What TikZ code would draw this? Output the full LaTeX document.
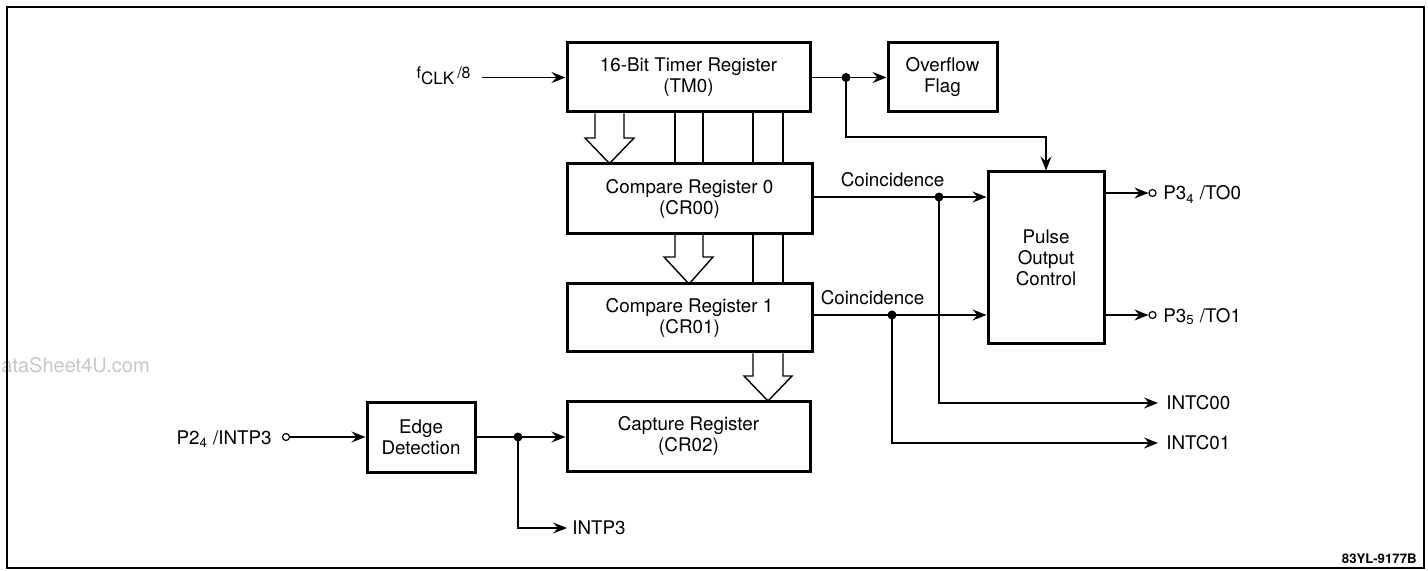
\documentclass[tikz,border=0pt]{standalone}
\usepackage{fontspec}
\setmainfont{TeX Gyre Heros}
\usetikzlibrary{arrows.meta}
\begin{document}
\begin{tikzpicture}[x=0.5pt,y=-0.5pt,
  box/.style={draw,line width=1.5pt,fill=white,align=center,inner sep=0pt,font=\fontsize{9.4}{10.5}\selectfont},
  conn/.style={line width=0.7pt},
  arr/.style={conn,-{Stealth[length=7pt,width=5.5pt,inset=2.5pt]}},
  lbl/.style={inner sep=0pt,font=\fontsize{9.4}{11}\selectfont},
  dot/.style={circle,fill,inner sep=0pt,minimum size=4.5pt},
  term/.style={circle,draw,line width=0.6pt,inner sep=0pt,minimum size=3.5pt,fill=white},
  wide/.style={line width=0.7pt,line join=miter}]
\useasboundingbox (0,0) rectangle (1428,571);

% watermark (as visible in the reference)
\node[anchor=west,text=black!22,font=\fontsize{10}{12}\selectfont,inner sep=0pt] (wm) at (1,365) {ataSheet4U.com};

% frame
\draw[line width=1pt] (7,7) rectangle (1424,568);

% boxes
\node[box,minimum width=121.5pt,minimum height=34.5pt] (tm0) at (688.5,77.5) {16-Bit Timer Register\\(TM0)};
\node[box,minimum width=54.5pt,minimum height=34.5pt] (ovf) at (942.5,77.5) {Overflow\\Flag};
\node[box,minimum width=122.5pt,minimum height=35pt] (cr00) at (689.5,198.5) {Compare Register 0\\(CR00)};
\node[box,minimum width=122.5pt,minimum height=34pt] (cr01) at (689.5,318) {Compare Register 1\\(CR01)};
\node[box,minimum width=121.5pt,minimum height=35pt] (cap) at (688.5,436) {Capture Register\\(CR02)};
\node[box,minimum width=54pt,minimum height=35pt] (edge) at (421,437) {Edge\\Detection};
\node[box,minimum width=58pt,minimum height=86pt] (poc) at (1046,258) {Pulse\\Output\\Control};

% wide (bus) arrows
\draw[wide] (tm0.south -| 595,0) -- (595,138) -- (585,138) -- (609.5,163.5) -- (634,138) -- (624,138) -- (tm0.south -| 624,0);
\draw[wide] (cr00.south -| 675,0) -- (675,257) -- (664,257) -- (689,284) -- (713,257) -- (703,257) -- (cr00.south -| 703,0);
\draw[wide] (cr01.south -| 753,0) -- (753,376) -- (744,376) -- (768,401) -- (792,376) -- (783,376) -- (cr01.south -| 783,0);
\foreach \xx in {675,703} {
  \draw[conn] (tm0.south -| \xx,0) -- (cr00.north -| \xx,0);
}
\foreach \xx in {753,783} {
  \draw[conn] (tm0.south -| \xx,0) -- (cr00.north -| \xx,0);
  \draw[conn] (cr00.south -| \xx,0) -- (cr01.north -| \xx,0);
}

% clock input
\node[lbl,anchor=east] (fclk) at (471,76) {{\fontsize{8}{9}\selectfont f}\raisebox{-3pt}{\fontsize{8.5}{9}\selectfont CLK}\,{\fontsize{8}{9}\selectfont /8}};
\coordinate (fin) at (482,77.5);
\draw[arr] (fin) -- (tm0.west);

% overflow branch
\coordinate (d0) at (846,77.5);
\draw[conn] (tm0.east) -- (d0);
\draw[arr] (d0) -- (ovf.west);
\draw[arr] (d0) -- ++(0,59.5) -| (poc.north);
\node[dot] (d0dot) at (d0) {};

% coincidence lines
\coordinate (c0) at (939,197);
\coordinate (c1) at (892,315);
\draw[arr] (cr00.east |- c0) -- (c0 -| poc.west);
\draw[arr] (cr01.east |- c1) -- (c1 -| poc.west);
\node[lbl] (coin0) at (892.5,180) {Coincidence};
\node[lbl] (coin1) at (872.5,298) {Coincidence};

\node[lbl,anchor=west] (intc00) at (1166,403) {INTC00};
\node[lbl,anchor=west] (intc01) at (1166,443) {INTC01};
\draw[arr] (c0) |- ([xshift=-4pt]intc00.west);
\draw[arr] (c1) |- ([xshift=-4pt]intc01.west);
\node[dot] (c0dot) at (c0) {};
\node[dot] (c1dot) at (c1) {};

% outputs
\node[term] (t0) at (1152.5,193) {};
\node[term] (t1) at (1152.5,315) {};
\draw[arr] (poc.east |- t0) -- (t0.west);
\draw[arr] (poc.east |- t1) -- (t1.west);
\node[lbl,anchor=base west] (to0) at (1163,200) {P3\textsubscript{4} /TO0};
\node[lbl,anchor=base west] (to1) at (1163,322) {P3\textsubscript{5} /TO1};

% capture input
\node[term] (t2) at (286,437) {};
\node[lbl,anchor=base east] (p24) at (272,444) {P2\textsubscript{4} /INTP3};
\draw[arr] (t2.east) -- (edge.west);
\coordinate (d2) at (518,437);
\draw[conn] (edge.east) -- (d2);
\draw[arr] (d2) -- (d2 -| cap.west);
\node[lbl,anchor=west] (intp3) at (572,528) {INTP3};
\draw[arr] (d2) |- ([xshift=-2.5pt]intp3.west);
\node[dot] (d2dot) at (d2) {};

% figure code
\node[inner sep=0pt,anchor=base east,font=\fontsize{6.6}{7}\selectfont\bfseries] (code) at (1417,563) {83YL-9177B};
\end{tikzpicture}
\end{document}
